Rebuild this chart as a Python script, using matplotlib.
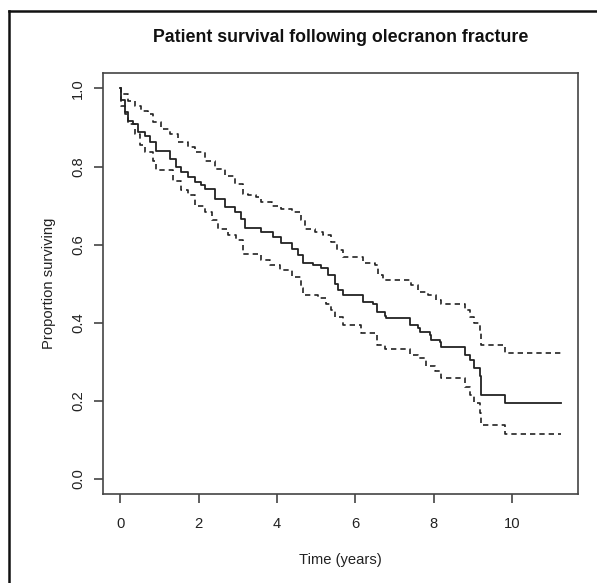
import numpy as np
import matplotlib
matplotlib.use("Agg")
import matplotlib.pyplot as plt
from matplotlib.lines import Line2D

plt.rcParams['font.family'] = ['Liberation Sans', 'DejaVu Sans']

# Kaplan-Meier estimate (value after each step)
t_surv = [0, 0.01, 0.115, 0.2, 0.33, 0.45, 0.625, 0.75, 0.92, 1.26,
          1.43, 1.56, 1.73, 1.9, 2.07, 2.16, 2.41, 2.67, 2.92, 3.09,
          3.18, 3.6, 3.9, 4.11, 4.37, 4.54, 4.66, 4.92, 5.13, 5.3,
          5.47, 5.56, 5.68, 6.19, 6.45, 6.54, 6.75, 6.79, 7.39, 7.6,
          7.64, 7.9, 7.94, 8.15, 8.19, 8.79, 8.92, 9.04, 9.17, 9.2,
          9.81, 11.25]
surv = [1.0, 0.97, 0.939, 0.917, 0.909, 0.888, 0.879, 0.862, 0.841, 0.82,
        0.798, 0.785, 0.773, 0.76, 0.752, 0.743, 0.718, 0.696, 0.683, 0.666,
        0.643, 0.632, 0.62, 0.603, 0.59, 0.573, 0.552, 0.547, 0.539, 0.522,
        0.5, 0.483, 0.472, 0.454, 0.449, 0.428, 0.417, 0.411, 0.394, 0.386,
        0.377, 0.368, 0.356, 0.351, 0.337, 0.317, 0.305, 0.283, 0.264, 0.215,
        0.194, 0.194]

# upper confidence limit
t_upper = [0, 0.03, 0.2, 0.37, 0.54, 0.71, 0.84, 1.05, 1.26, 1.47,
           1.73, 1.9, 2.16, 2.41, 2.67, 2.92, 3.13, 3.26, 3.47, 3.6,
           3.86, 4.11, 4.37, 4.62, 4.71, 4.96, 5.17, 5.39, 5.52, 5.68,
           6.19, 6.49, 6.58, 6.7, 7.43, 7.6, 7.85, 8.07, 8.19, 8.79,
           8.92, 9.04, 9.17, 9.2, 9.81, 11.25]
upper = [1.0, 0.986, 0.969, 0.956, 0.943, 0.935, 0.913, 0.896, 0.884, 0.862,
         0.849, 0.837, 0.815, 0.794, 0.777, 0.756, 0.73, 0.726, 0.722, 0.709,
         0.7, 0.692, 0.683, 0.662, 0.641, 0.632, 0.624, 0.607, 0.586, 0.568,
         0.552, 0.547, 0.522, 0.509, 0.496, 0.479, 0.471, 0.458, 0.449, 0.432,
         0.415, 0.398, 0.377, 0.343, 0.322, 0.322]

# lower confidence limit
t_lower = [0, 0.03, 0.115, 0.2, 0.37, 0.5, 0.625, 0.84, 0.92, 1.35,
           1.56, 1.73, 1.9, 2.16, 2.33, 2.5, 2.75, 2.96, 3.13, 3.6,
           3.81, 4.07, 4.37, 4.62, 4.66, 5.05, 5.26, 5.39, 5.47, 5.68,
           6.15, 6.54, 6.75, 7.39, 7.6, 7.81, 8.02, 8.19, 8.79, 8.92,
           9.04, 9.17, 9.2, 9.81, 11.25]
lower = [1.0, 0.956, 0.935, 0.909, 0.884, 0.854, 0.837, 0.815, 0.79, 0.764,
         0.739, 0.726, 0.7, 0.683, 0.662, 0.641, 0.624, 0.611, 0.577, 0.56,
         0.547, 0.534, 0.517, 0.488, 0.471, 0.462, 0.449, 0.432, 0.415, 0.394,
         0.373, 0.343, 0.332, 0.317, 0.309, 0.288, 0.275, 0.258, 0.236, 0.215,
         0.194, 0.169, 0.137, 0.115, 0.115]

x_ticks = [0, 2, 4, 6, 8, 10]
y_ticks = [0.0, 0.2, 0.4, 0.6, 0.8, 1.0]

fig = plt.figure(figsize=(5.97, 5.83), dpi=100)
ax = fig.add_axes([0.172, 0.152, 0.796, 0.723])

col = '#222222'
ax.plot(t_surv, surv, drawstyle='steps-post', color=col, lw=1.3)
for t, v in [(t_upper, upper), (t_lower, lower)]:
    ln, = ax.plot(t, v, drawstyle='steps-post', color=col, lw=1.2)
    ln.set_dashes([3.2, 2.4])

ax.set_xlim(-0.45, 11.68)
ax.set_ylim(-0.04, 1.04)
ax.set_xticks(x_ticks)
ax.set_xticklabels([str(v) for v in x_ticks])
ax.set_yticks(y_ticks)
ax.set_yticklabels([f'{v:.1f}' for v in y_ticks], rotation=90, va='center')

for s in ax.spines.values():
    s.set_color('#444444')
    s.set_linewidth(1.2)
ax.tick_params(length=6.7, width=1.2, color='#444444', labelsize=10.6,
               labelcolor='#222222')
ax.tick_params(axis='x', pad=9.5)
ax.tick_params(axis='y', pad=6)

ax.set_title('Patient survival following olecranon fracture', fontsize=12.8,
             fontweight='bold', color='#111111', pad=22)
ax.set_xlabel('Time (years)', fontsize=10.6, color='#222222', labelpad=16)
ax.set_ylabel('Proportion surviving', fontsize=10.6, color='#222222', labelpad=11)

# outer frame (top and left edges visible)
fig.add_artist(Line2D([9 / 597, 9 / 597], [0, 1 - 11 / 583],
                      transform=fig.transFigure, color='#111111', lw=1.8))
fig.add_artist(Line2D([9 / 597, 1], [1 - 11 / 583, 1 - 11 / 583],
                      transform=fig.transFigure, color='#111111', lw=1.8))

fig.savefig('out.png', dpi=100)
